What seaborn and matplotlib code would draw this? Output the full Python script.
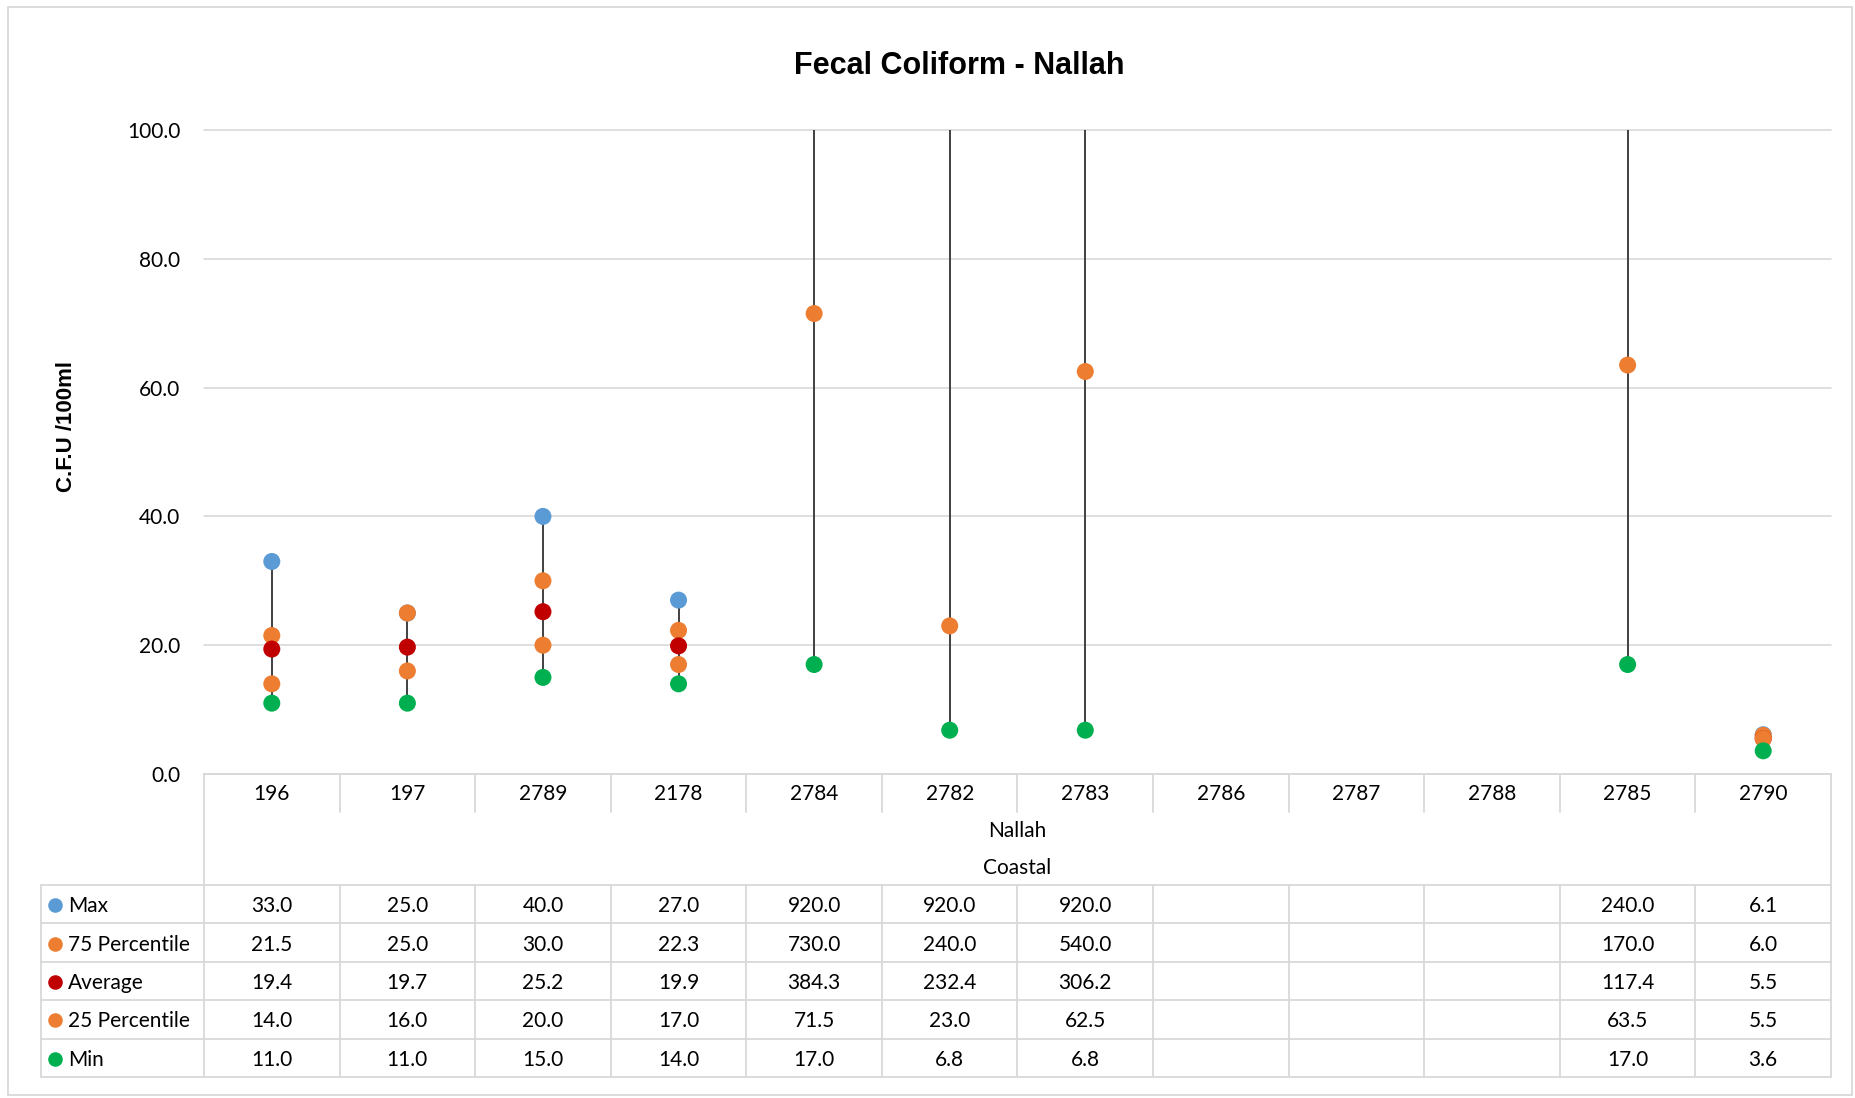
import numpy as np
import pandas as pd
import matplotlib
matplotlib.use("Agg")
import matplotlib.pyplot as plt
import seaborn as sns
from matplotlib import font_manager as fm
from matplotlib.transforms import blended_transform_factory
from matplotlib.patches import Rectangle

# ---------------- data ----------------
stations = ["196", "197", "2789", "2178", "2784", "2782", "2783",
            "2786", "2787", "2788", "2785", "2790"]
region_label = "Nallah"
group_label = "Coastal"
series_names = ["Max", "75 Percentile", "Average", "25 Percentile", "Min"]
nan = np.nan
max_vals = [33.0, 25.0, 40.0, 27.0, 920.0, 920.0, 920.0, nan, nan, nan, 240.0, 6.1]
p75_vals = [21.5, 25.0, 30.0, 22.3, 730.0, 240.0, 540.0, nan, nan, nan, 170.0, 6.0]
avg_vals = [19.4, 19.7, 25.2, 19.9, 384.3, 232.4, 306.2, nan, nan, nan, 117.4, 5.5]
p25_vals = [14.0, 16.0, 20.0, 17.0, 71.5, 23.0, 62.5, nan, nan, nan, 63.5, 5.5]
min_vals = [11.0, 11.0, 15.0, 14.0, 17.0, 6.8, 6.8, nan, nan, nan, 17.0, 3.6]
series_colors = ["#5B9BD5", "#ED7D31", "#C00000", "#ED7D31", "#00B050"]
y_ticks = [0, 20, 40, 60, 80, 100]
title = "Fecal Coliform - Nallah"
y_label = "C.F.U /100ml"

series_vals = [max_vals, p75_vals, avg_vals, p25_vals, min_vals]

# ---------------- style ----------------
sns.set_theme(style="white")
available = {f.name for f in fm.fontManager.ttflist}
body_font = "Lato" if "Lato" in available else "DejaVu Sans"
plt.rcParams["font.family"] = [body_font, "DejaVu Sans"]
plt.rcParams["text.color"] = "black"
if "Liberation Sans Narrow" in available:
    head_font, title_size, ylab_size = "Liberation Sans Narrow", 26, 19
else:
    head_font, title_size, ylab_size = "Liberation Sans", 22, 16

grid_c = "#D9D9D9"
txt_size = 15

W, H = 1856, 1098
fig = plt.figure(figsize=(W / 100, H / 100), dpi=100)
fig.patch.set_facecolor("white")

bg = fig.add_axes([0, 0, 1, 1], zorder=0)
bg.set_xlim(0, W)
bg.set_ylim(H, 0)
bg.axis("off")

L, R, T, B = 204, 1831, 130, 774
ax = fig.add_axes([L / W, 1 - B / H, (R - L) / W, (B - T) / H], zorder=1)
ax.patch.set_alpha(0)

n = len(stations)
pos = np.arange(n)

# long table for seaborn
rows = []
for name, vals in zip(series_names, series_vals):
    for i, v in enumerate(vals):
        rows.append({"pos": pos[i], "station": stations[i], "series": name, "value": v})
long_df = pd.DataFrame(rows).dropna(subset=["value"])

# high-low lines
mn = np.array(min_vals)
mx = np.array(max_vals)
mask = ~np.isnan(mn) & ~np.isnan(mx)
ax.vlines(pos[mask], mn[mask], mx[mask], color="#404040", lw=1.4, zorder=2)

sns.scatterplot(data=long_df, x="pos", y="value", hue="series",
                hue_order=series_names,
                palette=dict(zip(series_names, series_colors)),
                s=150, linewidth=0, legend=False, ax=ax, zorder=3)

ax.set_xlim(-0.5, n - 0.5)
ax.set_ylim(0, 100)
ax.set_yticks(y_ticks)
ax.yaxis.set_major_formatter(matplotlib.ticker.StrMethodFormatter("{x:.1f}"))
ax.set_xticks([])
ax.tick_params(axis="y", length=0, pad=17, labelsize=txt_size, labelcolor="black")
ax.grid(axis="y", color=grid_c, lw=1.2)
ax.set_axisbelow(True)
for gl in ax.get_ygridlines():
    gl.set_clip_on(False)
for s in ax.spines.values():
    s.set_visible(False)
ax.set_xlabel("")
ax.set_ylabel("")

# ---------------- titles ----------------
fig.text(959 / W, 1 - 66 / H, title, ha="center", va="center", color="black",
         family=head_font, weight="bold", fontsize=title_size)
fig.text(67 / W, 1 - 426 / H, y_label, ha="center", va="center", rotation=90,
         color="black", family=head_font, weight="bold", fontsize=ylab_size)

# ---------------- data table ----------------
trans = blended_transform_factory(ax.transData, bg.transData)
lw_t = 1.3
cat_top, cat_bot = 774, 812
row_top, row_h = 885, 38.4
nrows = len(series_names)
tab_bot = row_top + nrows * row_h
leg_left = 41

# category row
bg.plot([L, R], [cat_top, cat_top], color=grid_c, lw=lw_t)
for k in range(n + 1):
    x = k - 0.5
    y2 = tab_bot if k in (0, n) else cat_bot
    bg.plot([x, x], [cat_top, y2], color=grid_c, lw=lw_t, transform=trans)
for i, st in enumerate(stations):
    bg.text(pos[i], 794, st, transform=trans, ha="center", va="center",
            fontsize=txt_size, color="black")
bg.text((n - 1) / 2, 831, region_label, transform=trans, ha="center", va="center",
        fontsize=txt_size, color="black")
bg.text((n - 1) / 2, 868, group_label, transform=trans, ha="center", va="center",
        fontsize=txt_size, color="black")

# data rows
for j in range(nrows + 1):
    y = row_top + j * row_h
    bg.plot([leg_left, R], [y, y], color=grid_c, lw=lw_t)
bg.plot([leg_left, leg_left], [row_top, tab_bot], color=grid_c, lw=lw_t)
for k in range(1, n):
    x = k - 0.5
    bg.plot([x, x], [row_top, tab_bot], color=grid_c, lw=lw_t, transform=trans)

for j, (name, vals, col) in enumerate(zip(series_names, series_vals, series_colors)):
    yc = row_top + (j + 0.5) * row_h + 2
    bg.scatter([55], [yc - 1], s=110, color=col, linewidth=0)
    bg.text(68, yc, name, ha="left", va="center", fontsize=txt_size, color="black")
    for i, v in enumerate(vals):
        if not np.isnan(v):
            bg.text(pos[i], yc, f"{v:.1f}", transform=trans, ha="center",
                    va="center", fontsize=txt_size, color="black")

# chart border
bg.add_patch(Rectangle((8, 7), 1844, 1088, fill=False, ec=grid_c, lw=1.3))

fig.savefig("out.png", dpi=100, facecolor="white")
